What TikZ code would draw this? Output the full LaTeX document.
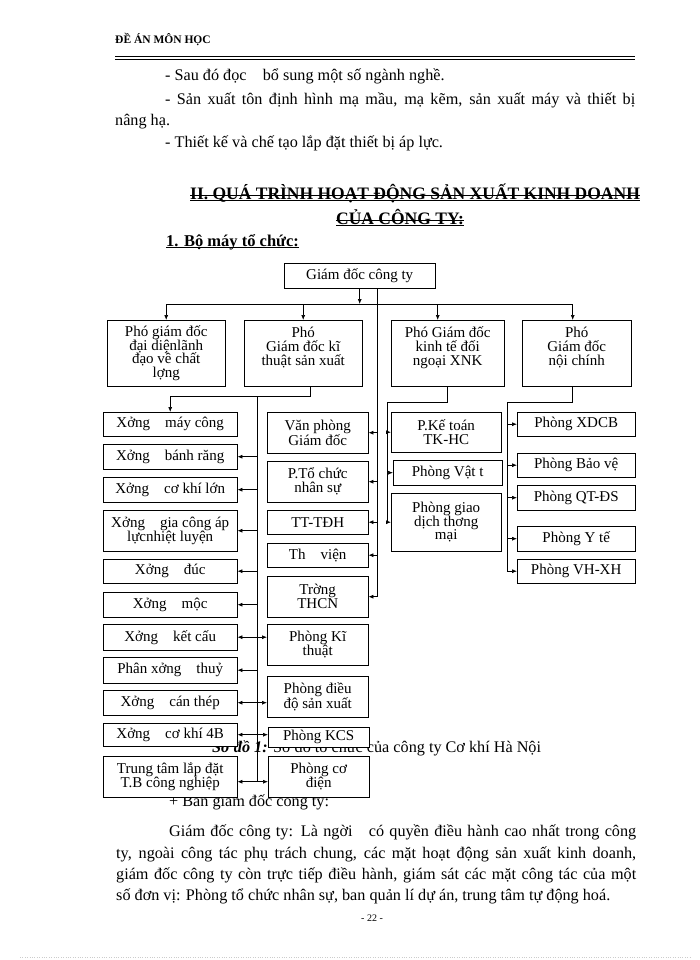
\documentclass[tikz,border=0pt]{standalone}
\usepackage{fontspec}
\setmainfont{Liberation Serif}
\usetikzlibrary{
  positioning,
  calc,
  arrows.meta}
\newcommand{\bodyfont}{\fontsize{16.2}{19}\selectfont}
\newcommand{\chartfont}{\fontsize{15}{13.8}\selectfont}
\tikzset{
  %% unit : one box of the organisation chart
  unit/.style={
    rectangle,
    draw=black,
    fill=white,
    inner sep=1pt,
    anchor=north west,
    font=\chartfont,
    align=center
  },
  %% colA .. colD : the widths of the four columns of boxes
  colA/.style={unit, minimum width=134pt},
  colB/.style={unit, minimum width=101pt},
  colC/.style={unit, minimum width=110pt},
  colD/.style={unit, minimum width=118pt},
  %% bodytext : one line of the running text
  bodytext/.style={
    anchor=base west,
    inner sep=0pt,
    font=\bodyfont
  },
  %% heading : bold heading line
  heading/.style={
    bodytext,
    font=\fontsize{17.5}{20}\selectfont\bfseries
  },
  %% link : plain connector
  link/.style={black, line width=0.7pt},
  %% arr : connector with a head
  arr/.style={link, -{Latex[length=5pt,width=4pt]}},
  %% darr : connector with two heads
  darr/.style={link, {Latex[length=5pt,width=4pt]}-{Latex[length=5pt,width=4pt]}}
}

\begin{document}
\begin{tikzpicture}
  [x=1pt,
  y=-1pt]

  \fill [white] (0,0) rectangle (700,960);
  \useasboundingbox (0,0) rectangle (700,960);

  %% Grid for orientation. Comment out for final figure!
  % \draw[help lines, green](0, 0) grid[step=50] (700, 960);

  %% Page head
  \node (head) [anchor=base west, inner sep=0pt,
    font=\fontsize{11.5}{13}\selectfont\bfseries] at (115,44) {ĐỀ ÁN MÔN HỌC};
  \draw [line width=1.3pt] (115,56.5) -- (635,56.5);
  \draw [line width=0.5pt] (115,59.5) -- (635,59.5);

  %% Text above the chart
  \node (l1) [bodytext] at (165,81) {- Sau đó đọc\quad bổ sung một số ngành nghề.};
  \node (l2) [bodytext] at (165,105) {%
    \makebox[470pt][s]{- Sản xuất tôn định hình mạ mầu, mạ kẽm, sản xuất máy và thiết bị}};
  \node (l3) [bodytext] at (115,126) {nâng hạ.};
  \node (l4) [bodytext] at (165,148) {- Thiết kế và chế tạo lắp đặt thiết bị áp lực.};

  \node (t1) [heading] at (190,199) {II. QUÁ TRÌNH HOẠT ĐỘNG SẢN XUẤT KINH DOANH};
  \node (t2) [heading] at (336,224) {CỦA CÔNG TY:};
  \node (t3) [heading, font=\fontsize{16.5}{19}\selectfont\bfseries] at (166,246) {%
    1. Bộ máy tổ chức:};
  \draw [line width=0.8pt] ([yshift=4pt]t1.base west) -- ([yshift=4pt]t1.base east);
  \draw [line width=0.8pt] ([yshift=-1.5pt]t1.base west) -- ([yshift=-1.5pt]t1.base east);
  \draw [line width=0.8pt] ([yshift=4pt]t2.base west) -- ([yshift=4pt]t2.base east);
  \draw [line width=0.8pt] ([yshift=-1.5pt]t2.base west) -- ([yshift=-1.5pt]t2.base east);
  \draw [line width=0.8pt] ([yshift=-1.5pt]t3.base west) -- ([yshift=-1.5pt]t3.base east);

  %% Caption and following line, partly hidden by the boxes
  \node (caption) [bodytext] at (212,752) {%
    \textbf{\textit{Sơ đồ 1:}} Sơ đồ tổ chức của công ty Cơ khí Hà Nội};
  \node (p0) [bodytext] at (169,806) {+ Ban giám đốc công ty:};

  %% Chart: director and deputies
  \node (gd) [unit, minimum width=151pt, minimum height=25pt] at (284,263) {%
    Giám đốc công ty};

  \node (pgd1) [unit, minimum width=118pt, minimum height=66pt] at (107,320) {%
    Phó giám đốc\\ đại diệnlãnh\\ đạo về chất\\ lợng};
  \node (pgd2) [unit, minimum width=118pt, minimum height=66pt] at (244,320) {%
    Phó\\ Giám đốc kĩ\\ thuật sản xuất\\ \mbox{}};
  \node (pgd3) [unit, minimum width=113pt, minimum height=66pt] at (391,320) {%
    Phó Giám đốc\\ kinh tế đối\\ ngoại XNK\\ \mbox{}};
  \node (pgd4) [unit, minimum width=109pt, minimum height=66pt] at (522,320) {%
    Phó\\ Giám đốc\\ nội chính\\ \mbox{}};

  %% Left column: workshops
  \node (xmc) [colA, minimum height=24pt] at (103,412) {Xởng\quad máy công};
  \node (xbr) [colA, minimum height=25pt] at (103,444) {Xởng\quad bánh răng};
  \node (xck) [colA, minimum height=25pt] at (103,477) {Xởng\quad cơ khí lớn};
  \node (xgc) [colA, minimum height=41pt] at (103,510) {%
    Xởng\quad gia công áp\\ lựcnhiệt luyện};
  \node (xdu) [colA, minimum height=24pt] at (103,559) {Xởng\quad đúc};
  \node (xmo) [colA, minimum height=25pt] at (103,592) {Xởng\quad mộc};
  \node (xkc) [colA, minimum height=26pt] at (103,624) {Xởng\quad kết cấu};
  \node (pxt) [colA, minimum height=26pt] at (103,657) {Phân xởng\quad thuỷ};
  \node (xct) [colA, minimum height=25pt] at (103,690) {Xởng\quad cán thép};
  \node (x4b) [colA, minimum height=23pt] at (103,723) {Xởng\quad cơ khí 4B};
  \node (ttl) [colA, minimum height=41pt] at (103,756) {%
    Trung tâm lắp đặt\\ T.B công nghiệp};

  %% Middle column: offices
  \node (vp) [colB, minimum height=41pt] at (267,412) {Văn phòng\\ Giám đốc};
  \node (tc) [colB, minimum height=41pt] at (267,461) {P.Tổ chức\\ nhân sự};
  \node (ttd) [colB, minimum height=24pt] at (267,510) {TT-TĐH};
  \node (tv) [colB, minimum height=24pt] at (267,543) {Th\quad viện};
  \node (tr) [colB, minimum height=41pt] at (267,576) {Trờng\\ THCN};
  \node (pkt) [colB, minimum height=41pt] at (267,624) {Phòng Kĩ\\ thuật};
  \node (pdd) [colB, minimum height=41pt] at (267,676) {Phòng điều\\ độ sản xuất};
  \node (kcs) [colB, minimum height=20pt] at (268,727) {Phòng KCS};
  \node (pcd) [colB, minimum height=41pt] at (268,756) {Phòng cơ\\ điện};

  %% Third column
  \node (ktoan) [colC, minimum height=40pt] at (391,412) {P.Kế toán\\ TK-HC};
  \node (vattu) [colC, minimum width=109pt, minimum height=25pt] at (393,460) {%
    Phòng Vật t};
  \node (gdtm) [colC, minimum height=58pt] at (391,493) {%
    Phòng giao\\ dịch thơng\\ mại};

  %% Right column
  \node (xdcb) [colD, minimum height=24pt] at (517,412) {Phòng XDCB};
  \node (bv) [colD, minimum height=24pt] at (517,453) {Phòng Bảo vệ};
  \node (qtds) [colD, minimum height=25pt] at (517,485) {Phòng QT-ĐS};
  \node (yte) [colD, minimum height=25pt] at (517,526) {Phòng Y tế};
  \node (vhxh) [colD, minimum height=24pt] at (517,559) {Phòng VH-XH};

  %% Connections from the director
  \coordinate (bus) at (0,304);
  \coordinate (d3) at ([xshift=-10pt]pgd3.north);
  \coordinate (d4) at ([xshift=-4pt]pgd4.north);
  \draw [arr] (gd.south) -- (gd.south |- bus);
  \draw [link] (pgd1.north |- bus) -- (d4 |- bus);
  \draw [arr] (pgd1.north |- bus) -- (pgd1.north);
  \draw [arr] (pgd2.north |- bus) -- (pgd2.north);
  \draw [arr] (d3 |- bus) -- (d3);
  \draw [arr] (d4 |- bus) -- (d4);

  \coordinate (trunk) at ([xshift=18pt]gd.south);
  \draw [link] (trunk) -- (trunk |- tr.east);
  \foreach \n in {vp,tc,ttd,tv,tr}
    \draw [arr] (trunk |- \n.east) -- (\n.east);

  %% Connections from the technical deputy
  \coordinate (k2) at ([xshift=7pt]pgd2.south);
  \coordinate (j2) at (0,396);
  \draw [arr] (k2) |- (xmc.north |- j2) -- (xmc.north);
  \path (xmc.east |- j2) ++(20,0) coordinate (lbus);
  \coordinate (ttlp) at ([yshift=-5pt]ttl.east);
  \draw [link] (lbus) -- (lbus |- ttlp);
  \foreach \n in {xbr,xck,xgc,xdu,xmo,pxt}
    \draw [arr] (lbus |- \n.east) -- (\n.east);
  \draw [darr] (xkc.east) -- (pkt.west |- xkc.east);
  \draw [darr] (xct.east) -- (pdd.west |- xct.east);
  \draw [darr] (x4b.east) -- (kcs.west |- x4b.east);
  \draw [darr] (ttlp) -- (pcd.west |- ttlp);

  %% Connections from the economic deputy
  \coordinate (j3) at (0,402);
  \path (ktoan.west |- j3) ++(-4,0) coordinate (cbus);
  \draw [link] (pgd3.south) |- (cbus) -- (cbus |- gdtm.west);
  \foreach \n in {ktoan,vattu,gdtm}
    \draw [arr] (cbus |- \n.west) -- (\n.west);

  %% Connections from the internal deputy
  \path (xdcb.west |- j3) ++(-10,0) coordinate (rbus);
  \draw [link] ([xshift=-4pt]pgd4.south) |- (rbus) -- (rbus |- vhxh.west);
  \foreach \n in {xdcb,bv,qtds,yte,vhxh}
    \draw [arr] (rbus |- \n.west) -- (\n.west);

  %% Text below the chart
  \node (p1) [bodytext] at (169,836) {%
    \makebox[467pt][s]{Giám đốc công ty: Là ngời\quad có quyền điều hành cao nhất trong công}};
  \node (p2) [bodytext] at (116,858) {%
    \makebox[520pt][s]{ty, ngoài công tác phụ trách chung, các mặt hoạt động sản xuất kinh doanh,}};
  \node (p3) [bodytext] at (116,879) {%
    \makebox[520pt][s]{giám đốc công ty còn trực tiếp điều hành, giám sát các mặt công tác của một}};
  \node (p4) [bodytext] at (116,900) {%
    số đơn vị: Phòng tổ chức nhân sự, ban quản lí dự án, trung tâm tự động hoá.};

  %% Page foot
  \node (pnum) [anchor=base, inner sep=0pt, font=\fontsize{10}{12}\selectfont]
    at (372,921) {- 22 -};
  \draw [gray!40, dotted] (20,957) -- (690,957);

\end{tikzpicture}
\end{document}
